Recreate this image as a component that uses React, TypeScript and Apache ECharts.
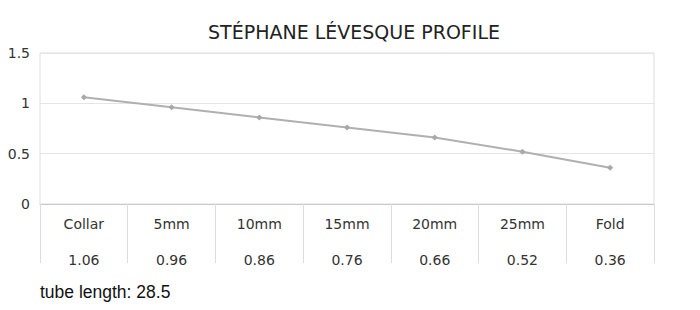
import React, { useEffect, useRef } from "react";
import * as echarts from "echarts";

const categories = ["Collar", "5mm", "10mm", "15mm", "20mm", "25mm", "Fold"];
const values = [1.06, 0.96, 0.86, 0.76, 0.66, 0.52, 0.36];
const titleText = "STÉPHANE LÉVESQUE PROFILE";
const footnote = "tube length: 28.5";

export default function App() {
  const ref = useRef<HTMLDivElement>(null);
  useEffect(() => {
    if (!ref.current) return;
    const chart = echarts.init(ref.current, undefined, { renderer: "svg" });
    chart.setOption({
      animation: false,
      backgroundColor: "#ffffff",
      title: {
        text: titleText,
        left: 349,
        textAlign: "center",
        top: 17,
        textStyle: { fontFamily: "DejaVu Sans", fontSize: 19, fontWeight: "normal", color: "#222" },
      },
      grid: { left: 40, right: 46, top: 53, bottom: 106, show: true, borderColor: "#ddd", borderWidth: 1 },
      xAxis: {
        type: "category",
        data: categories,
        boundaryGap: true,
        axisLine: { lineStyle: { color: "#c8c8c8", width: 1 } },
        axisTick: { show: true, length: 59, lineStyle: { color: "#ddd" }, alignWithLabel: false },
        axisLabel: {
          margin: 2,
          interval: 0,
          formatter: (v: string, i: number) => `{a|${v}}\n{b|${values[i]}}`,
          rich: {
            a: { fontFamily: "DejaVu Sans", fontSize: 14, color: "#333", lineHeight: 36 },
            b: { fontFamily: "DejaVu Sans", fontSize: 14, color: "#333", lineHeight: 36 },
          },
        },
      },
      yAxis: {
        type: "value",
        min: 0,
        max: 1.5,
        interval: 0.5,
        axisLine: { show: false },
        axisTick: { show: false },
        splitLine: { lineStyle: { color: "#e4e4e4" } },
        axisLabel: { fontFamily: "DejaVu Sans", fontSize: 14, color: "#333", margin: 10 },
      },
      series: [
        {
          type: "line",
          data: values,
          symbol: "diamond",
          symbolSize: 6,
          lineStyle: { color: "#b0b0b0", width: 2 },
          itemStyle: { color: "#a8a8a8" },
        },
      ],
      graphic: [
        {
          type: "text",
          left: 40,
          top: 283,
          style: { text: footnote, fontFamily: "Liberation Sans", fontSize: 17.5, fill: "#111" },
        },
      ],
    });
    return () => chart.dispose();
  }, []);
  return <div ref={ref} style={{ width: 700, height: 310, position: "absolute", left: 0, top: 0 }} />;
}
